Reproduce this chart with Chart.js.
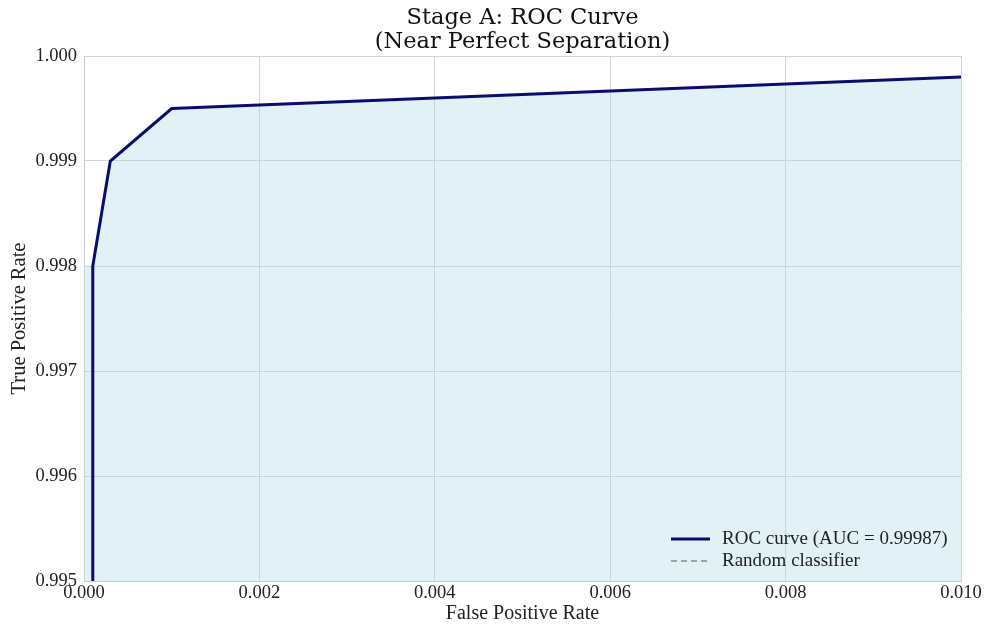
<!DOCTYPE html>
<html>
<head>
<meta charset="utf-8">
<script src="https://cdn.jsdelivr.net/npm/chart.js@4.4.1/dist/chart.umd.min.js"></script>
<style>
  html, body { margin: 0; padding: 0; background: #ffffff; }
  #wrap { width: 985px; height: 626px; position: relative; }
</style>
</head>
<body>
<div id="wrap"><canvas id="roc" width="985" height="626"></canvas></div>
<script>
// ROC operating points (false positive rate, true positive rate)
const fpr = [0.0001, 0.0001, 0.0001, 0.0003, 0.001, 0.01];
const tpr = [0.990, 0.995, 0.998, 0.999, 0.9995, 0.9998];
// Chance diagonal
const randomFpr = [0, 1];
const randomTpr = [0, 1];
const aucValue = 0.99987;

const xTicks = [0.000, 0.002, 0.004, 0.006, 0.008, 0.010];
const yTicks = [0.995, 0.996, 0.997, 0.998, 0.999, 1.000];

const titleLines = ['Stage A: ROC Curve', '(Near Perfect Separation)'];
const xTitle = 'False Positive Rate';
const yTitle = 'True Positive Rate';
const rocLabel = 'ROC curve (AUC = ' + aucValue.toFixed(5) + ')';
const randomLabel = 'Random classifier';

const SERIF = '"Liberation Serif", "Times New Roman", serif';
const NAVY = '#0c0c6e';
const GRID = '#d4d4d4';

const rocPoints = fpr.map((x, i) => ({ x: x, y: tpr[i] }));
// area under the curve, closed against the left edge below the first corner
const fillPoints = [{ x: 0, y: tpr[2] }].concat(rocPoints.slice(2));
const randomPoints = randomFpr.map((x, i) => ({ x: x, y: randomTpr[i] }));

const titlePlugin = {
  id: 'twoLineTitle',
  afterDraw(chart) {
    const ctx = chart.ctx;
    const cx = (chart.chartArea.left + chart.chartArea.right) / 2;
    ctx.save();
    ctx.fillStyle = '#111111';
    ctx.font = '22.5px "DejaVu Serif", serif';
    ctx.textAlign = 'center';
    ctx.textBaseline = 'middle';
    ctx.fillText(titleLines[0], cx, 18);
    ctx.fillText(titleLines[1], cx, 42);
    ctx.restore();
  }
};

const legendPlugin = {
  id: 'insideLegend',
  afterDraw(chart) {
    const ctx = chart.ctx;
    const a = chart.chartArea;
    const x0 = a.right - 290, x1 = x0 + 39, tx = x1 + 12;
    const rows = [
      { label: rocLabel, color: NAVY, width: 3, dash: [], y: a.bottom - 42 },
      { label: randomLabel, color: '#8a8a8a', width: 1.6, dash: [6, 4], y: a.bottom - 20 }
    ];
    ctx.save();
    rows.forEach(r => {
      ctx.beginPath();
      ctx.strokeStyle = r.color;
      ctx.lineWidth = r.width;
      ctx.setLineDash(r.dash);
      ctx.moveTo(x0, r.y);
      ctx.lineTo(x1, r.y);
      ctx.stroke();
      ctx.setLineDash([]);
      ctx.fillStyle = '#222222';
      ctx.font = '19px ' + SERIF;
      ctx.textAlign = 'left';
      ctx.textBaseline = 'middle';
      ctx.fillText(r.label, tx, r.y);
    });
    ctx.restore();
  }
};

new Chart(document.getElementById('roc'), {
  type: 'scatter',
  data: {
    datasets: [
      {
        label: 'area',
        data: fillPoints,
        showLine: true,
        borderWidth: 0,
        borderColor: 'rgba(0,0,0,0)',
        backgroundColor: 'rgba(173,216,230,0.36)',
        fill: 'start',
        pointRadius: 0,
        order: 3
      },
      {
        label: rocLabel,
        data: rocPoints,
        showLine: true,
        borderColor: NAVY,
        borderWidth: 3,
        pointRadius: 0,
        fill: false,
        order: 1
      },
      {
        label: randomLabel,
        data: randomPoints,
        showLine: true,
        borderColor: '#8a8a8a',
        borderWidth: 1.6,
        borderDash: [6, 4],
        pointRadius: 0,
        fill: false,
        order: 2
      }
    ]
  },
  options: {
    responsive: false,
    animation: false,
    events: [],
    layout: { padding: { top: 56, right: 24, bottom: 0, left: 0 } },
    plugins: {
      legend: { display: false },
      title: { display: false },
      tooltip: { enabled: false }
    },
    scales: {
      x: {
        type: 'linear',
        min: 0,
        max: 0.01,
        afterBuildTicks(s) { s.ticks = xTicks.map(v => ({ value: v })); },
        afterFit(s) { s.height = 45; },
        ticks: {
          color: '#222222',
          font: { family: SERIF, size: 18.5 },
          padding: 1,
          maxRotation: 0,
          callback: v => v.toFixed(3)
        },
        grid: { color: GRID, lineWidth: 1, drawTicks: false },
        border: { display: true, color: '#cccccc', width: 1 },
        title: {
          display: true,
          text: xTitle,
          color: '#222222',
          font: { family: SERIF, size: 20 },
          padding: { top: 3, bottom: 0 }
        }
      },
      y: {
        type: 'linear',
        min: 0.995,
        max: 1.0,
        afterBuildTicks(s) { s.ticks = yTicks.map(v => ({ value: v })); },
        afterFit(s) { s.width = 84; },
        ticks: {
          color: '#222222',
          font: { family: SERIF, size: 18.5 },
          padding: 7,
          callback: v => v.toFixed(3)
        },
        grid: { color: GRID, lineWidth: 1, drawTicks: false },
        border: { display: true, color: '#cccccc', width: 1 },
        title: {
          display: true,
          text: yTitle,
          color: '#222222',
          font: { family: SERIF, size: 20.5 },
          padding: { top: 7, bottom: 2 }
        }
      }
    }
  },
  plugins: [titlePlugin, legendPlugin]
});
</script>
</body>
</html>
